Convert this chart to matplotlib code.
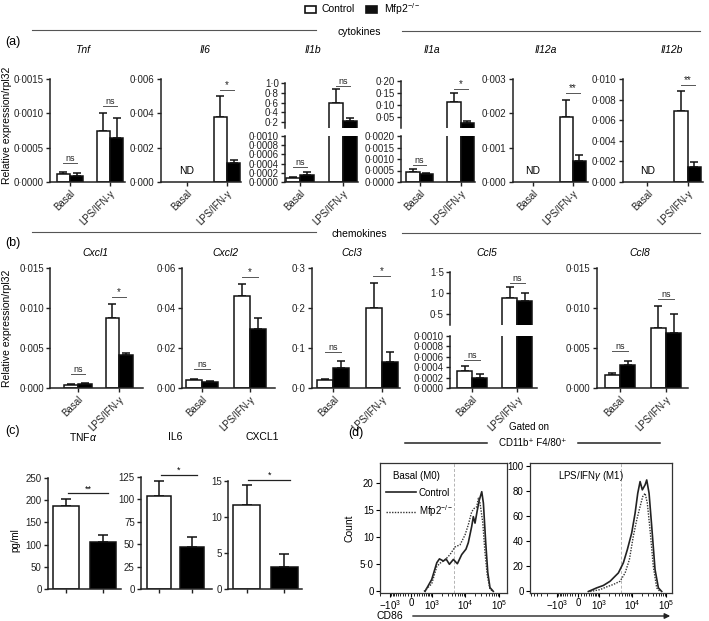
import numpy as np
import matplotlib
matplotlib.use("Agg")
import matplotlib.pyplot as plt
from matplotlib.ticker import FixedLocator, FuncFormatter
from matplotlib.patches import Rectangle, FancyArrowPatch
from matplotlib.lines import Line2D

plt.rcParams['font.family'] = ['Liberation Sans', 'DejaVu Sans']
plt.rcParams['mathtext.fontset'] = 'custom'
plt.rcParams['mathtext.rm'] = 'Liberation Sans'
plt.rcParams['mathtext.it'] = 'Liberation Sans:italic'

# ---------------- data ----------------
conditions = ['Basal', 'LPS/IFN-\u03b3']

# (a) cytokines, relative expression / rpl32 (nan = not detected)
a_genes = ['Tnf', 'Il6', 'Il1b', 'Il1a', 'Il12a', 'Il12b']
a_ctrl_basal = [0.00012, np.nan, 0.00008, 0.00045, np.nan, np.nan]
a_ctrl_basal_sem = [0.00003, np.nan, 0.00002, 0.00010, np.nan, np.nan]
a_ko_basal = [0.00009, np.nan, 0.00015, 0.00035, np.nan, np.nan]
a_ko_basal_sem = [0.00004, np.nan, 0.00007, 0.00005, np.nan, np.nan]
a_ctrl_lps = [0.00075, 0.0038, 0.60, 0.112, 0.0019, 0.0069]
a_ctrl_lps_sem = [0.00026, 0.0012, 0.28, 0.040, 0.0005, 0.0019]
a_ko_lps = [0.00064, 0.0011, 0.23, 0.028, 0.0006, 0.0015]
a_ko_lps_sem = [0.00029, 0.0002, 0.06, 0.007, 0.0002, 0.0004]
a_sig_basal = ['ns', '', 'ns', 'ns', '', '']
a_sig_lps = ['ns', '*', 'ns', '*', '**', '**']

# (b) chemokines
b_genes = ['Cxcl1', 'Cxcl2', 'Ccl3', 'Ccl5', 'Ccl8']
b_ctrl_basal = [0.0004, 0.0042, 0.019, 0.00033, 0.0016]
b_ctrl_basal_sem = [0.0001, 0.0005, 0.003, 0.00010, 0.0003]
b_ko_basal = [0.0005, 0.0030, 0.051, 0.00020, 0.0029]
b_ko_basal_sem = [0.0001, 0.0003, 0.016, 0.00006, 0.0005]
b_ctrl_lps = [0.0088, 0.046, 0.200, 0.88, 0.0075]
b_ctrl_lps_sem = [0.0017, 0.006, 0.062, 0.27, 0.0027]
b_ko_lps = [0.0041, 0.0295, 0.066, 0.81, 0.0069]
b_ko_lps_sem = [0.0003, 0.0055, 0.024, 0.20, 0.0024]
b_sig_basal = ['ns', 'ns', 'ns', 'ns', 'ns']
b_sig_lps = ['*', '*', '*', 'ns', 'ns']

# (c) secreted proteins, pg/ml
c_names = ['TNF$\\alpha$', 'IL6', 'CXCL1']
c_ctrl = [187, 104, 11.7]
c_ctrl_sem = [16, 17, 2.7]
c_ko = [106, 47, 3.1]
c_ko_sem = [16, 11, 1.7]
c_sig = ['**', '*', '*']

# (d) CD86 histograms
m0_ctrl_x = [550, 960, 1400, 1690, 2230, 2680, 3380, 4440, 5830, 7850, 10500, 12300,
             15500, 17300, 19400, 22700, 26100, 30700, 34300, 40200, 46200, 53700, 67300]
m0_ctrl_y = [0, 2.2, 5.3, 6.0, 5.6, 6.0, 5.0, 5.9, 5.1, 6.8, 7.8, 9.0,
             12.0, 13.8, 12.6, 15.0, 16.9, 18.4, 16.3, 9.0, 3.5, 0.7, 0]
m0_ko_x = [500, 960, 1400, 1760, 2490, 3530, 4970, 6990, 9800, 12300, 15500, 18200,
           21800, 24400, 27300, 32900, 38200, 44800, 53700, 67300]
m0_ko_y = [0, 1.4, 4.6, 5.2, 5.8, 6.8, 8.2, 8.6, 10.4, 12.3, 14.7, 15.3,
           15.6, 17.2, 16.3, 12.7, 7.2, 2.9, 0.4, 0]
m1_ctrl_x = [380, 820, 1350, 2190, 3090, 3870, 5430, 7120, 9600, 12100, 14500, 17000,
             19800, 23900, 26700, 31300, 37500, 47000, 59000, 74000]
m1_ctrl_y = [0, 2.9, 4.8, 8.2, 12.2, 14.8, 22.8, 33.3, 46.6, 62.4, 78.3, 87.6,
             81.0, 85.0, 88.9, 78.3, 51.9, 17.5, 2.9, 0]
m1_ko_x = [460, 1060, 1720, 2740, 4360, 6130, 8200, 10700, 13500, 17000, 20300, 23900,
           27800, 33500, 41800, 52600, 66000]
m1_ko_y = [0, 1.5, 3.7, 5.6, 8.2, 14.8, 25.4, 43.9, 57.0, 67.7, 75.6, 78.3,
           70.4, 49.0, 20.0, 2.9, 0]
gate_cd86 = 4500

# ---------------- figure ----------------
W, H = 709, 621
fig = plt.figure(figsize=(W / 100, H / 100), dpi=100)
TICK_FS = 7


def fx(x):
    return x / W


def fy(y):
    return 1 - y / H


def box(l, t, r, b):
    return fig.add_axes([l / W, 1 - b / H, (r - l) / W, (b - t) / H])


def fmt(dec):
    return FuncFormatter(lambda v, p: f'{v:.{dec}f}'.replace('.', '\u00b7'))


def style(ax, bottom=True):
    ax.patch.set_alpha(0)
    ax.spines['top'].set_visible(False)
    ax.spines['right'].set_visible(False)
    for s in ('left', 'bottom'):
        ax.spines[s].set_linewidth(1.1)
        ax.spines[s].set_color('#222222')
    ax.tick_params(labelsize=TICK_FS, length=3, width=1, pad=1.5, colors='#222222')
    if not bottom:
        ax.spines['bottom'].set_visible(False)
        ax.tick_params(axis='x', bottom=False, labelbottom=False)


HW = 0.165


def draw_bars(ax, x, vals, sems):
    for dx, v, e, col in zip((-HW, HW), vals, sems, ('white', 'black')):
        if np.isnan(v):
            continue
        ax.errorbar(x + dx, v, yerr=[[0], [e]], fmt='none', ecolor='#111111',
                    elinewidth=1.1, capsize=3, capthick=1.1, zorder=1)
        ax.bar(x + dx, v, width=2 * HW, color=col, edgecolor='#111111',
               linewidth=1.1, zorder=2)


def sig(ax, x, y, txt, half=0.17):
    ax.plot([x - half, x + half], [y, y], color='#555555', lw=0.7, clip_on=False)
    ax.text(x, y, txt, ha='center', va='bottom', fontsize=6.5 if 'n' in txt else 7,
            color='#222222')


def xcats(ax):
    ax.set_xticks([0, 1])
    ax.set_xticklabels(conditions, rotation=45, ha='right', rotation_mode='anchor',
                       fontsize=TICK_FS)


# panel layout: (left px, right px, xmin, xmax)
a_box = [(50, 125, -0.5, 1.375), (161, 241, -0.65, 1.35), (285, 358, -0.35, 1.35),
         (401, 475, -0.45, 1.35), (513, 588, -0.5, 1.38), (623, 703, -0.6, 1.38)]
a_ticks = [([0, 0.0005, 0.0010, 0.0015], 4), ([0, 0.002, 0.004, 0.006], 3), None, None,
           ([0, 0.001, 0.002, 0.003], 3), ([0, 0.002, 0.004, 0.006, 0.008, 0.010], 3)]
a_broken = {2: ((0.077, 1.0), [0.2, 0.4, 0.6, 0.8, 1.0], 1, 83,
                (0, 0.001), [0, 0.0002, 0.0004, 0.0006, 0.0008, 0.0010], 4),
            3: ((0.006, 0.2), [0.05, 0.10, 0.15, 0.20], 2, 81,
                (0, 0.002), [0, 0.0005, 0.0010, 0.0015, 0.0020], 4)}
a_title_x = [83, 205, 313, 432, 546, 672]

b_box = [(50, 143, -0.68, 1.58), (182, 275, -0.42, 1.52), (312, 400, -0.44, 1.38),
         (450, 537, -0.49, 1.44), (597, 688, -0.5, 1.48)]
b_ticks = [([0, 0.005, 0.010, 0.015], 3), ([0, 0.02, 0.04, 0.06], 2),
           ([0, 0.1, 0.2, 0.3], 1), None, ([0, 0.005, 0.010, 0.015], 3)]
b_broken = {3: ((0.24, 1.5), [0.5, 1.0, 1.5], 1, 272,
                (0, 0.001), [0, 0.0002, 0.0004, 0.0006, 0.0008, 0.0010], 4)}
b_title_x = [95, 225, 352, 487, 640]


def qpcr_row(genes, cb, cbs, kb, kbs, cl, cls, kl, kls, sb, sl, boxes, ticks, broken,
             title_x, top, bottom, brk_top_end, brk_bot_start, title_y):
    for i, g in enumerate(genes):
        l, r, x0, x1 = boxes[i]
        vb = [cb[i], kb[i]]
        eb = [cbs[i], kbs[i]]
        vl = [cl[i], kl[i]]
        el = [cls[i], kls[i]]
        if i in broken:
            tl, tt, td, ttop, bl, bt, bd = broken[i]
            axt = box(l, ttop, r, brk_top_end)
            axb = box(l, brk_bot_start, r, bottom)
            for ax, yl, tk, d in ((axt, tl, tt, td), (axb, bl, bt, bd)):
                ax.set_xlim(x0, x1)
                ax.set_ylim(*yl)
                ax.yaxis.set_major_locator(FixedLocator(tk))
                ax.yaxis.set_major_formatter(fmt(d))
                draw_bars(ax, 1, vl, el)
            draw_bars(axb, 0, vb, eb)
            style(axt, bottom=False)
            style(axb)
            axt.spines['left'].set_bounds(tl[0], tt[-1])
            xcats(axb)
            rb = bl[1] - bl[0]
            rt = tl[1] - tl[0]
            if sb[i]:
                sig(axb, 0, max(vb[0] + eb[0], vb[1] + eb[1]) + 0.1 * rb, sb[i])
            if sl[i]:
                sig(axt, 1, max(vl[0] + el[0], vl[1] + el[1]) + 0.07 * rt, sl[i])
        else:
            tk, d = ticks[i]
            ax = box(l, top, r, bottom)
            ax.set_xlim(x0, x1)
            ax.set_ylim(0, tk[-1])
            ax.yaxis.set_major_locator(FixedLocator(tk))
            ax.yaxis.set_major_formatter(fmt(d))
            style(ax)
            xcats(ax)
            rng = tk[-1]
            if np.isnan(vb[0]):
                ax.text(0, 0.06 * rng, 'ND', ha='center', va='bottom', fontsize=7.5)
            else:
                draw_bars(ax, 0, vb, eb)
            draw_bars(ax, 1, vl, el)
            if sb[i]:
                sig(ax, 0, max(vb[0] + eb[0], vb[1] + eb[1]) + 0.08 * rng, sb[i])
            if sl[i]:
                sig(ax, 1, max(vl[0] + el[0], vl[1] + el[1]) + 0.06 * rng, sl[i])
        fig.text(fx(title_x[i]), fy(title_y), g, ha='center', va='center',
                 fontsize=7.5, style='italic')


qpcr_row(a_genes, a_ctrl_basal, a_ctrl_basal_sem, a_ko_basal, a_ko_basal_sem,
         a_ctrl_lps, a_ctrl_lps_sem, a_ko_lps, a_ko_lps_sem, a_sig_basal, a_sig_lps,
         a_box, a_ticks, a_broken, a_title_x, 79, 182, 128, 136, 50)
qpcr_row(b_genes, b_ctrl_basal, b_ctrl_basal_sem, b_ko_basal, b_ko_basal_sem,
         b_ctrl_lps, b_ctrl_lps_sem, b_ko_lps, b_ko_lps_sem, b_sig_basal, b_sig_lps,
         b_box, b_ticks, b_broken, b_title_x, 268, 388, 325, 336, 253)

# ---------------- (c) ----------------
c_box = [(48, 121, -0.5, 1.5), (141, 212, -0.55, 1.6), (228, 302, -0.49, 1.47)]
c_top = [478, 477, 481]
c_ticks = [[0, 50, 100, 150, 200, 250], [0, 25, 50, 75, 100, 125], [0, 5, 10, 15]]
c_title_x = [83, 175, 262]
for i in range(3):
    l, r, x0, x1 = c_box[i]
    ax = box(l, c_top[i], r, 589)
    ax.set_xlim(x0, x1)
    ax.set_ylim(0, c_ticks[i][-1])
    ax.set_yticks(c_ticks[i])
    style(ax)
    ax.set_xticks([0, 1])
    ax.set_xticklabels(['', ''])
    for x, v, e, col in ((0, c_ctrl[i], c_ctrl_sem[i], 'white'),
                         (1, c_ko[i], c_ko_sem[i], 'black')):
        ax.errorbar(x, v, yerr=[[0], [e]], fmt='none', ecolor='#111111',
                    elinewidth=1.1, capsize=3.5, capthick=1.1, zorder=1)
        ax.bar(x, v, width=0.72, color=col, edgecolor='#111111', linewidth=1.1, zorder=2)
    rng = c_ticks[i][-1]
    ys = max(c_ctrl[i] + c_ctrl_sem[i], c_ko[i] + c_ko_sem[i]) + 0.05 * rng
    ax.plot([0.05, 1.15], [ys, ys], color='#222222', lw=0.9, clip_on=False)
    ax.text(0.6, ys, c_sig[i], ha='center', va='bottom', fontsize=6.5)
    fig.text(fx(c_title_x[i]), fy(437), c_names[i], ha='center', va='center', fontsize=7.5)
fig.text(fx(15), fy(540), 'pg/ml', rotation=90, ha='center', va='center', fontsize=7)

# ---------------- (d) ----------------
def fwd(x):
    return np.arcsinh(np.asarray(x) / 500.0)


def inv(y):
    return 500.0 * np.sinh(np.asarray(y))


minor = ([-k * 100 for k in range(1, 10)] + [-k * 1000 for k in range(2, 10)] +
         [k * 100 for k in range(1, 10)] + [k * 1000 for k in range(2, 10)] +
         [k * 10000 for k in range(2, 10)])

d_specs = [((380, 507), (-2035, 171000), (-0.3, 23.7), [0, 5, 10, 15, 20],
            ['0', '5\u00b70', '10', '15', '20'], m0_ctrl_x, m0_ctrl_y, m0_ko_x, m0_ko_y,
            'Basal (M0)'),
           ((530, 672), (-6560, 149000), (-1.2, 102.4), [0, 20, 40, 60, 80, 100],
            ['0', '20', '40', '60', '80', '100'], m1_ctrl_x, m1_ctrl_y, m1_ko_x, m1_ko_y,
            'LPS/IFN$\\gamma$ (M1)')]
for j, (xb, xl, yl, yt, ytl, cx, cy, kx, ky, lab) in enumerate(d_specs):
    ax = box(xb[0], 463, xb[1], 593)
    ax.set_xscale('function', functions=(fwd, inv))
    ax.set_xlim(*xl)
    ax.set_ylim(*yl)
    ax.set_yticks(yt)
    ax.set_yticklabels(ytl)
    ax.set_xticks([-1000, 0, 1000, 10000, 100000])
    ax.set_xticklabels(['$-10^3$', '0', '$10^3$', '$10^4$', '$10^5$'])
    ax.xaxis.set_minor_locator(FixedLocator(minor))
    ax.tick_params(labelsize=TICK_FS, length=3, width=0.8, pad=1.5)
    ax.tick_params(axis='x', pad=0.5)
    ax.tick_params(which='minor', length=1.8, width=0.6)
    for s in ax.spines.values():
        s.set_linewidth(0.9)
        s.set_color('#333333')
    ax.axvline(gate_cd86, color='0.7', ls='--', lw=0.7, dashes=(3, 2))
    ax.plot(cx, cy, color='#222222', lw=1.2, label='Control')
    ax.plot(kx, ky, color='#333333', lw=1.0, ls=(0, (1, 1)), label='Mfp2$^{-/-}$')
    ax.text(0.1 if j == 0 else 0.2, 0.9, lab, transform=ax.transAxes, fontsize=7,
            va='center')
    if j == 0:
        ax.set_ylabel('Count', fontsize=7.5, labelpad=4)
        ax.legend(loc='upper left', bbox_to_anchor=(0.02, 0.84), frameon=False,
                  fontsize=7, handlelength=3.0, handletextpad=0.3, labelspacing=0.6,
                  borderaxespad=0)

fig.text(fx(390), fy(616), 'CD86', ha='center', va='center', fontsize=7.5)
fig.add_artist(FancyArrowPatch((fx(410), fy(616)), (fx(673), fy(616)),
                               transform=fig.transFigure, arrowstyle='-|>',
                               mutation_scale=8, lw=1.0, color='#222222'))
fig.text(fx(529), fy(427), 'Gated on', ha='center', va='center', fontsize=7)
fig.text(fx(533), fy(443), 'CD11b\u207a F4/80\u207a', ha='center', va='center', fontsize=7)
for x0, x1 in ((405, 487), (578, 660)):
    fig.add_artist(Line2D([fx(x0), fx(x1)], [fy(443)] * 2, color='#222222', lw=1.1))

# ---------------- headers ----------------
fig.add_artist(Rectangle((fx(305), fy(13)), 11 / W, 7 / H, transform=fig.transFigure,
                         fc='white', ec='#111111', lw=1.2))
fig.text(fx(322), fy(9), 'Control', va='center', fontsize=7.5)
fig.add_artist(Rectangle((fx(366), fy(13)), 11 / W, 7 / H, transform=fig.transFigure,
                         fc='#111111', ec='#111111', lw=1.2))
fig.text(fx(384), fy(9), 'Mfp2$^{-/-}$', va='center', fontsize=7.5)

for yy, word in ((30, 'cytokines'), (232, 'chemokines')):
    fig.add_artist(Line2D([fx(32), fx(316)], [fy(yy)] * 2, color='#555555', lw=0.8))
    fig.add_artist(Line2D([fx(402), fx(700)], [fy(yy + 1)] * 2, color='#555555', lw=0.8))
    fig.text(fx(359), fy(yy + 2), word, ha='center', va='center', fontsize=7.5)

for lab, x, y in (('(a)', 5, 42), ('(b)', 5, 243), ('(c)', 5, 431), ('(d)', 348, 433)):
    fig.text(fx(x), fy(y), lab, va='center', fontsize=9)

fig.text(fx(7), fy(125), 'Relative expression/rpl32', rotation=90, ha='center',
         va='center', fontsize=7.5)
fig.text(fx(7), fy(328), 'Relative expression/rpl32', rotation=90, ha='center',
         va='center', fontsize=7.5)

fig.savefig('out.png', dpi=100)
